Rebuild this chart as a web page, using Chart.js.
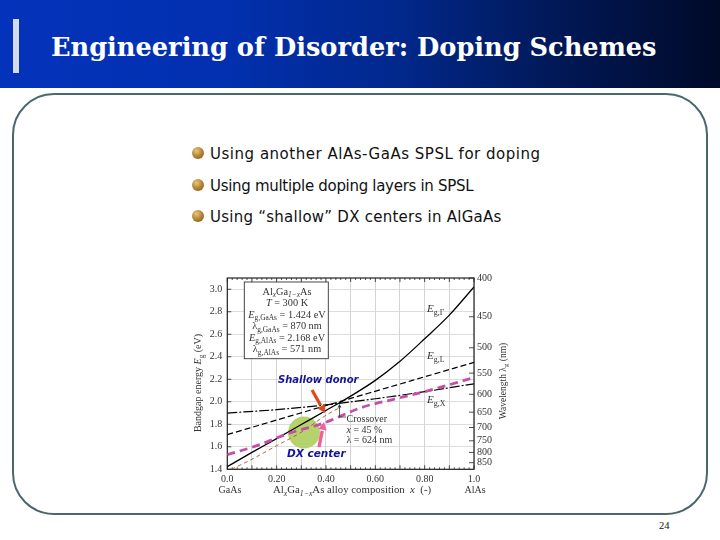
<!DOCTYPE html>
<html>
<head>
<meta charset="utf-8">
<script src="https://cdn.jsdelivr.net/npm/chart.js@4"></script>
<style>
html, body { margin: 0; padding: 0; background: #fff; }
#slide { position: relative; width: 720px; height: 540px; overflow: hidden; background: #fff; }
#header { position: absolute; left: 0; top: 0; width: 720px; height: 88px;
  background: linear-gradient(90deg, #0433bb 0%, #0230b0 30%, #01288c 55%, #011a5c 75%, #000a28 100%); }
#bar { position: absolute; left: 13px; top: 19px; width: 6px; height: 54px; background: #d2dcee; }
#title { position: absolute; left: 51px; top: 32px; color: #fff; white-space: nowrap;
  font: bold 25.65px "DejaVu Serif", serif; }
#frame { position: absolute; left: 12px; top: 93px; width: 692px; height: 418px;
  border: 2.5px solid #4a686c; border-radius: 42px; }
.bullet { position: absolute; left: 210px; color: #111; white-space: nowrap;
  font: 15px "DejaVu Sans", sans-serif; }
.dot { position: absolute; left: 192px; width: 12px; height: 12px; border-radius: 50%;
  background: radial-gradient(circle at 38% 32%, #e8c878 0%, #b8893c 45%, #6e4e18 100%); }
#page { position: absolute; left: 659px; top: 520px; font: 10.5px "Liberation Serif", serif; color: #111; }
#chartBox { position: absolute; left: 190px; top: 262px; width: 320px; height: 240px; filter: blur(0.3px); }
</style>
</head>
<body>
<div id="slide">
  <div id="header"></div>
  <div id="bar"></div>
  <div id="title">Engineering of Disorder: Doping Schemes</div>
  <div id="frame"></div>
  <div class="dot" style="top:147px"></div>
  <div class="bullet" style="top:145px;letter-spacing:0.52px">Using another AlAs-GaAs SPSL for doping</div>
  <div class="dot" style="top:179px"></div>
  <div class="bullet" style="top:177px;letter-spacing:-0.3px">Using multiple doping layers in SPSL</div>
  <div class="dot" style="top:210px"></div>
  <div class="bullet" style="top:208px;letter-spacing:0.25px">Using “shallow” DX centers in AlGaAs</div>
  <div id="chartBox"><canvas id="gapChart" width="320" height="240"></canvas></div>
  <div id="page">24</div>
</div>
<script>
// Valeurs
const gammaX = [0, 0.1, 0.2, 0.3, 0.4, 0.45, 0.5, 0.6, 0.7, 0.8, 0.9, 1.0];
const gammaE = [1.424, 1.55, 1.673, 1.798, 1.923, 1.985, 2.05, 2.19, 2.36, 2.56, 2.77, 3.02];
const lValleyX = [0, 0.25, 0.5, 0.75, 1.0];
const lValleyE = [1.708, 1.87, 2.03, 2.19, 2.35];
const xValleyX = [0, 0.2, 0.4, 0.6, 0.8, 1.0];
const xValleyE = [1.90, 1.93, 1.973, 2.027, 2.09, 2.16];
const shallowX = [0, 0.12, 0.25, 0.39, 0.545, 0.67, 0.8, 1.0];
const shallowE = [1.53, 1.61, 1.72, 1.81, 1.95, 2.02, 2.09, 2.215];
const dxX = [0.017, 0.1, 0.2, 0.3, 0.4, 0.457];
const dxE = [1.40, 1.49, 1.61, 1.73, 1.88, 1.95];
const circleX = [0.311];
const circleE = [1.727];

const xTickValues = [0, 0.1, 0.2, 0.3, 0.4, 0.5, 0.6, 0.7, 0.8, 0.9, 1.0];
const xTickLabels = { 0: '0.0', 0.2: '0.20', 0.4: '0.40', 0.6: '0.60', 0.8: '0.80', 1: '1.0' };
const energyTicks = [1.4, 1.6, 1.8, 2.0, 2.2, 2.4, 2.6, 2.8, 3.0];
const wavelengthTicks = [400, 450, 500, 550, 600, 650, 700, 750, 800, 850];

const TEXT_COLOR = '#333';
const SERIF = '"Liberation Serif", serif';

function toPoints(xs, ys) {
    return xs.map((x, i) => ({ x: x, y: ys[i] }));
}

// Texte avec indices : chaque morceau est [texte, style] (i = italique, s = indice)
function drawRuns(ctx, runs, x, y, size, align) {
    const fontFor = (style) => {
        const sub = style.includes('s');
        const ital = style.includes('i');
        return (ital ? 'italic ' : '') + (sub ? size * 0.72 : size) + 'px ' + SERIF;
    };
    let total = 0;
    runs.forEach(([t, st]) => { ctx.font = fontFor(st); total += ctx.measureText(t).width; });
    let cx = align === 'center' ? x - total / 2 : x;
    ctx.textAlign = 'left';
    ctx.textBaseline = 'alphabetic';
    runs.forEach(([t, st]) => {
        ctx.font = fontFor(st);
        ctx.fillText(t, cx, y + (st.includes('s') ? size * 0.25 : 0));
        cx += ctx.measureText(t).width;
    });
}

function drawArrow(ctx, x0, y0, x1, y1, color, width, head) {
    const a = Math.atan2(y1 - y0, x1 - x0);
    ctx.strokeStyle = color;
    ctx.fillStyle = color;
    ctx.lineWidth = width;
    ctx.beginPath();
    ctx.moveTo(x0, y0);
    ctx.lineTo(x1 - head * Math.cos(a), y1 - head * Math.sin(a));
    ctx.stroke();
    ctx.beginPath();
    ctx.moveTo(x1, y1);
    ctx.lineTo(x1 - head * Math.cos(a - 0.5), y1 - head * Math.sin(a - 0.5));
    ctx.lineTo(x1 - head * Math.cos(a + 0.5), y1 - head * Math.sin(a + 0.5));
    ctx.closePath();
    ctx.fill();
}

// Cadre, petites graduations vers l'intérieur
const axisFramePlugin = {
    id: 'axisFrame',
    beforeDatasetsDraw(chart) {
        const { ctx, chartArea: a, scales } = chart;
        ctx.save();
        ctx.strokeStyle = '#222';
        ctx.lineWidth = 0.8;
        ctx.beginPath();
        for (let i = 0; i <= 50; i++) {
            const px = scales.x.getPixelForValue(i * 0.02);
            const len = i % 5 === 0 ? 4 : 2;
            ctx.moveTo(px, a.bottom); ctx.lineTo(px, a.bottom - len);
            ctx.moveTo(px, a.top); ctx.lineTo(px, a.top + len);
        }
        energyTicks.forEach((e) => {
            const py = scales.y.getPixelForValue(e);
            ctx.moveTo(a.left, py); ctx.lineTo(a.left + 4, py);
        });
        wavelengthTicks.forEach((w) => {
            const py = scales.y2.getPixelForValue(1240 / w);
            ctx.moveTo(a.right, py); ctx.lineTo(a.right - 5, py);
        });
        ctx.stroke();
        ctx.lineWidth = 1.2;
        ctx.strokeRect(a.left, a.top, a.right - a.left, a.bottom - a.top);
        ctx.restore();
    }
};

// Annotations de la figure
const annotationPlugin = {
    id: 'annotations',
    afterDatasetsDraw(chart) {
        const ctx = chart.ctx;
        ctx.save();

        // encadré
        ctx.fillStyle = '#fff';
        ctx.strokeStyle = '#333';
        ctx.lineWidth = 0.9;
        ctx.fillRect(54.3, 20, 84, 76.7);
        ctx.strokeRect(54.3, 20, 84, 76.7);
        ctx.fillStyle = TEXT_COLOR;
        drawRuns(ctx, [['Al', ''], ['x', 'is'], ['Ga', ''], ['1−x', 'is'], ['As', '']], 97, 32.5, 10.3, 'center');
        drawRuns(ctx, [['T', 'i'], [' = 300 K', '']], 97, 44, 10.3, 'center');
        drawRuns(ctx, [['E', 'i'], ['g,GaAs', 's'], [' = 1.424 eV', '']], 97, 55.5, 10.3, 'center');
        drawRuns(ctx, [['λ', ''], ['g,GaAs', 's'], [' = 870 nm', '']], 97, 67, 10.3, 'center');
        drawRuns(ctx, [['E', 'i'], ['g,AlAs', 's'], [' = 2.168 eV', '']], 97, 78.5, 10.3, 'center');
        drawRuns(ctx, [['λ', ''], ['g,AlAs', 's'], [' = 571 nm', '']], 97, 90, 10.3, 'center');

        // noms des courbes
        drawRuns(ctx, [['E', 'i'], ['g,Γ', 's']], 237, 50, 11, 'left');
        drawRuns(ctx, [['E', 'i'], ['g,L', 's']], 237, 97, 11, 'left');
        drawRuns(ctx, [['E', 'i'], ['g,X', 's']], 237, 141, 11, 'left');

        // crossover
        ctx.strokeStyle = '#333';
        ctx.lineWidth = 0.8;
        ctx.beginPath();
        ctx.moveTo(156, 155); ctx.lineTo(149.5, 155); ctx.lineTo(149.5, 145);
        ctx.stroke();
        drawArrow(ctx, 149.5, 147, 149.5, 142, '#333', 0.8, 4);
        ctx.fillStyle = TEXT_COLOR;
        drawRuns(ctx, [['Crossover', '']], 156.5, 160, 10, 'left');
        drawRuns(ctx, [['x', 'i'], [' = 45 %', '']], 156.5, 170.5, 10, 'left');
        drawRuns(ctx, [['λ = 624 nm', '']], 156.5, 180.5, 10, 'left');

        // titres des axes
        drawRuns(ctx, [['GaAs', '']], 40, 231, 10, 'center');
        drawRuns(ctx, [['AlAs', '']], 285, 231, 10, 'center');
        drawRuns(ctx, [['Al', ''], ['x', 'is'], ['Ga', ''], ['1−x', 'is'], ['As alloy composition  ', ''], ['x', 'i'], ['  (-)', '']], 162, 231, 10.8, 'center');

        ctx.save();
        ctx.translate(11, 121);
        ctx.rotate(-Math.PI / 2);
        drawRuns(ctx, [['Bandgap energy ', ''], ['E', 'i'], ['g', 's'], [' (eV)', '']], 0, 0, 10, 'center');
        ctx.restore();
        ctx.save();
        ctx.translate(316, 119);
        ctx.rotate(-Math.PI / 2);
        drawRuns(ctx, [['Wavelength λ', ''], ['g', 's'], [' (nm)', '']], 0, 0, 9.5, 'center');
        ctx.restore();

        // flèches et textes ajoutés
        drawArrow(ctx, 122, 128, 135, 151, '#e04818', 3.2, 9);
        drawArrow(ctx, 129, 185, 134, 160, '#f0609a', 3.4, 9);
        ctx.fillStyle = '#14149a';
        ctx.textAlign = 'left';
        ctx.textBaseline = 'alphabetic';
        ctx.font = 'italic 600 10px "DejaVu Sans", sans-serif';
        ctx.fillText('Shallow donor', 88, 121);
        ctx.font = 'italic 600 10.5px "DejaVu Sans", sans-serif';
        ctx.fillText('DX center', 97, 195);
        ctx.restore();
    }
};

function createGapChart() {
    const canvas = document.getElementById('gapChart');
    const ctx = canvas.getContext('2d');

    return new Chart(ctx, {
        type: 'scatter',
        data: {
            datasets: [
                {
                    label: 'E g,Γ',
                    data: toPoints(gammaX, gammaE),
                    showLine: true, borderColor: '#000', borderWidth: 1.3,
                    pointRadius: 0, cubicInterpolationMode: 'monotone', order: 2
                },
                {
                    label: 'E g,L',
                    data: toPoints(lValleyX, lValleyE),
                    showLine: true, borderColor: '#000', borderWidth: 1.2, borderDash: [6, 3],
                    pointRadius: 0, cubicInterpolationMode: 'monotone', order: 2
                },
                {
                    label: 'E g,X',
                    data: toPoints(xValleyX, xValleyE),
                    showLine: true, borderColor: '#000', borderWidth: 1.2, borderDash: [10, 2, 2, 2],
                    pointRadius: 0, cubicInterpolationMode: 'monotone', order: 2
                },
                {
                    label: 'Shallow donor',
                    data: toPoints(shallowX, shallowE),
                    showLine: true, borderColor: '#c24fa8', borderWidth: 2.8, borderDash: [8, 5],
                    pointRadius: 0, cubicInterpolationMode: 'monotone', order: 1
                },
                {
                    label: 'DX center',
                    data: toPoints(dxX, dxE),
                    showLine: true, borderColor: '#a8582e', borderWidth: 0.9, borderDash: [4, 3],
                    pointRadius: 0, cubicInterpolationMode: 'monotone', order: 1
                },
                {
                    label: 'DX region',
                    data: toPoints(circleX, circleE),
                    backgroundColor: '#b6d26c', borderWidth: 0,
                    pointRadius: 16, pointHoverRadius: 16, order: 3
                }
            ]
        },
        options: {
            responsive: false,
            animation: false,
            layout: { padding: { left: 17, right: 16, top: 11.5, bottom: 16.7 } },
            plugins: { legend: { display: false }, title: { display: false }, tooltip: { enabled: false } },
            scales: {
                x: {
                    type: 'linear', min: 0, max: 1,
                    afterBuildTicks: (scale) => { scale.ticks = xTickValues.map((v) => ({ value: v })); },
                    afterFit: (scale) => { scale.height = 16; },
                    grid: { color: '#c9c9c9', lineWidth: 0.8, drawTicks: false },
                    border: { display: false },
                    ticks: {
                        autoSkip: false, maxRotation: 0, padding: 4, color: TEXT_COLOR,
                        font: { family: SERIF, size: 10 },
                        callback: (v) => xTickLabels[Math.round(v * 10) / 10] || ''
                    }
                },
                y: {
                    type: 'linear', min: 1.4, max: 3.1,
                    afterBuildTicks: (scale) => { scale.ticks = energyTicks.map((v) => ({ value: v })); },
                    afterFit: (scale) => { scale.width = 20.3; },
                    grid: { color: '#d4d4d4', lineWidth: 0.8, drawTicks: false },
                    border: { display: false },
                    ticks: {
                        padding: 5, color: TEXT_COLOR,
                        font: { family: SERIF, size: 10 },
                        callback: (v) => v.toFixed(1)
                    }
                },
                y2: {
                    type: 'linear', position: 'right', min: 1.4, max: 3.1,
                    afterBuildTicks: (scale) => { scale.ticks = wavelengthTicks.map((w) => ({ value: 1240 / w })); },
                    afterFit: (scale) => { scale.width = 20; },
                    grid: { drawOnChartArea: false, drawTicks: false },
                    border: { display: false },
                    ticks: {
                        padding: 3, color: TEXT_COLOR,
                        font: { family: SERIF, size: 10 },
                        callback: (v) => String(Math.round(1240 / v))
                    }
                }
            }
        },
        plugins: [axisFramePlugin, annotationPlugin]
    });
}

createGapChart();
</script>
</body>
</html>
